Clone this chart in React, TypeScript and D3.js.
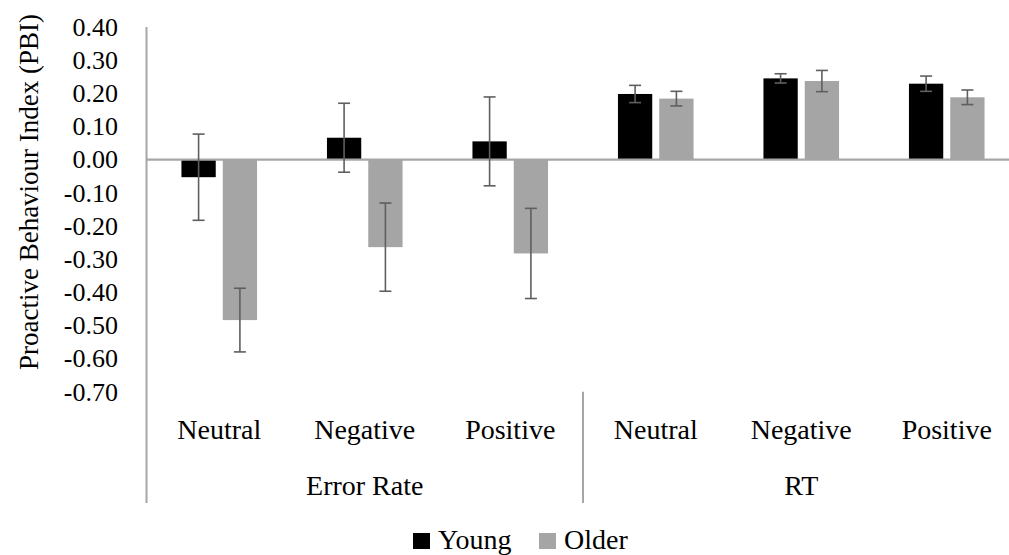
import React from 'react';
import * as d3 from 'd3';

const categories = ['Neutral', 'Negative', 'Positive', 'Neutral', 'Negative', 'Positive'];
const groups = ['Error Rate', 'RT'];
const groupSize = 3;
const series = ['Young', 'Older'];
const young = [-0.053, 0.066, 0.055, 0.198, 0.245, 0.229];
const youngErr = [0.13, 0.104, 0.134, 0.026, 0.014, 0.023];
const older = [-0.484, -0.264, -0.283, 0.184, 0.237, 0.188];
const olderErr = [0.096, 0.133, 0.136, 0.022, 0.032, 0.022];
const yTicks = [0.4, 0.3, 0.2, 0.1, 0, -0.1, -0.2, -0.3, -0.4, -0.5, -0.6, -0.7];

const W = 1009;
const H = 555;
const left = 146.5;
const top = 27;
const bottom = 391.7;
const catW = 145.5;
const font = "'Liberation Serif', 'Times New Roman', serif";
const colors = {Young: '#000000', Older: '#a5a5a5'};
const axisColor = '#a6a6a6';
const errColor = '#5f5f5f';

const fmt = d3.formatLocale({decimal: '.', thousands: ',', grouping: [3], currency: ['', ''], minus: '-'}).format('.2f');

export default function App() {
  const x0 = d3
    .scaleBand()
    .domain(categories.map((_, i) => String(i)))
    .range([left, left + catW * categories.length]);
  const x1 = d3
    .scaleBand()
    .domain(series)
    .range([(catW - 75.6) / 2, (catW + 75.6) / 2])
    .paddingInner(0.17);
  const y = d3.scaleLinear().domain([-0.7, 0.4]).range([bottom, top]);

  const values = {Young: young, Older: older};
  const errs = {Young: youngErr, Older: olderErr};
  const sepBottom = 503;

  return (
    <svg width={W} height={H} style={{position: 'absolute', left: 0, top: 0, background: '#fff'}}>
      {/* y tick labels */}
      {yTicks.map(t => (
        <text key={t} x={118} y={y(t)} dy={'0.34em'} textAnchor={'end'} fontFamily={font} fontSize={26} fill={'#000'}>
          {fmt(t)}
        </text>
      ))}
      <text
        transform={`translate(29,${192}) rotate(-90)`}
        dy={'0.34em'}
        textAnchor={'middle'}
        fontFamily={font}
        fontSize={27}
        fill={'#000'}>
        Proactive Behaviour Index (PBI)
      </text>

      {/* bars */}
      {categories.map((c, i) => (
        <g key={i} transform={`translate(${x0(String(i))},0)`}>
          {series.map(s => {
            const v = values[s][i];
            return (
              <rect
                key={s}
                x={x1(s)}
                y={Math.min(y(v), y(0))}
                width={x1.bandwidth()}
                height={Math.abs(y(v) - y(0))}
                fill={colors[s]}
              />
            );
          })}
        </g>
      ))}

      {/* axes */}
      <line x1={left} x2={W} y1={y(0)} y2={y(0)} stroke={axisColor} strokeWidth={2.2} />
      <line x1={left} x2={left} y1={top} y2={sepBottom} stroke={axisColor} strokeWidth={2} />
      {groups.map((g, gi) => {
        const xs = left + catW * groupSize * (gi + 1);
        return <line key={g} x1={xs} x2={xs} y1={bottom} y2={sepBottom} stroke={axisColor} strokeWidth={2} />;
      })}

      {/* error bars */}
      {categories.map((c, i) => (
        <g key={i} transform={`translate(${x0(String(i))},0)`}>
          {series.map(s => {
            const v = values[s][i];
            const e = errs[s][i];
            const cx = x1(s) + x1.bandwidth() / 2;
            return (
              <g key={s} stroke={errColor} strokeWidth={1.6}>
                <line x1={cx} x2={cx} y1={y(v + e)} y2={y(v - e)} />
                <line x1={cx - 6} x2={cx + 6} y1={y(v + e)} y2={y(v + e)} />
                <line x1={cx - 6} x2={cx + 6} y1={y(v - e)} y2={y(v - e)} />
              </g>
            );
          })}
        </g>
      ))}

      {/* category labels */}
      {categories.map((c, i) => (
        <text
          key={i}
          x={x0(String(i)) + x0.bandwidth() / 2}
          y={439}
          textAnchor={'middle'}
          fontFamily={font}
          fontSize={28}
          fill={'#000'}>
          {c}
        </text>
      ))}
      {groups.map((g, gi) => (
        <text
          key={g}
          x={left + catW * groupSize * (gi + 0.5)}
          y={495}
          textAnchor={'middle'}
          fontFamily={font}
          fontSize={28}
          fill={'#000'}>
          {g}
        </text>
      ))}

      {/* legend */}
      {series.map((s, si) => {
        const lx = si === 0 ? 413 : 539;
        return (
          <g key={s}>
            <rect x={lx} y={533} width={17} height={16} fill={colors[s]} />
            <text x={lx + 25} y={549} fontFamily={font} fontSize={28} fill={'#000'}>
              {s}
            </text>
          </g>
        );
      })}
    </svg>
  );
}
